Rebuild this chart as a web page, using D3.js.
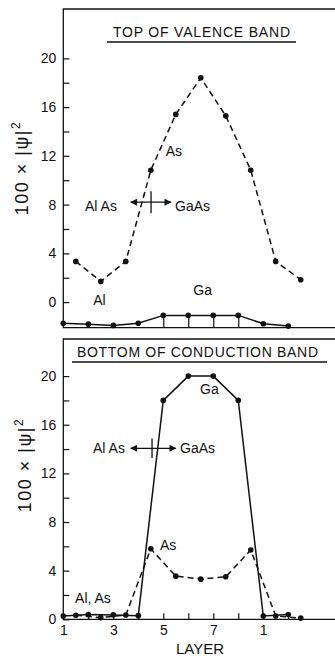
<!DOCTYPE html>
<html>
<head>
<meta charset="utf-8">
<script src="https://cdn.jsdelivr.net/npm/d3@7"></script>
<style>
  body { margin: 0; background: #fff; }
  svg text { font-family: "Liberation Sans", Arial, sans-serif; fill: #111; }
</style>
</head>
<body>
<div id="chart"></div>
<script>
// layers: Ga sits on integer layers, As on the half layers between them
const gaLayers = [1, 2, 3, 4, 5, 6, 7, 8, 9, 10];
const asLayers = [1.5, 2.5, 3.5, 4.5, 5.5, 6.5, 7.5, 8.5, 9.5, 10.5];

// top of valence band (Ga curve is drawn on its own offset baseline)
const topGa = [-1.73, -1.81, -1.91, -1.73, -1.09, -1.09, -1.09, -1.09, -1.77, -1.97];
const topAs = [3.34, 1.70, 3.34, 10.82, 15.4, 18.4, 15.28, 10.82, 3.34, 1.84];

// bottom of conduction band
const botGa = [0.27, 0.4, 0.36, 0.3, 18.0, 20.0, 20.0, 18.0, 0.27, 0.4];
const botAs = [0.33, 0.14, 0.35, 5.8, 3.55, 3.3, 3.5, 5.7, 0.27, 0.1];

const yMajor = [0, 4, 8, 12, 16, 20];
const yMinor = [2, 6, 10, 14, 18];
const xTicks = [2, 3, 4, 5, 6, 7, 8, 9, 10];
const xLabelVals = [1, 3, 5, 7, 9];
const xLabelText = ["1", "3", "5", "7", "1"];

const W = 335, H = 656;
const svg = d3.select("#chart").append("svg")
  .attr("width", W).attr("height", H);

const defs = svg.append("defs");
defs.append("marker")
  .attr("id", "ah")
  .attr("viewBox", "0 0 10 10")
  .attr("refX", 9).attr("refY", 5)
  .attr("markerWidth", 8).attr("markerHeight", 7)
  .attr("markerUnits", "userSpaceOnUse")
  .attr("orient", "auto-start-reverse")
  .append("path").attr("d", "M0,0 L10,5 L0,10 Z").attr("fill", "#111");

const x = d3.scaleLinear().domain([1, 11.87]).range([63.3, 335]);

function pts(xs, ys) { return xs.map((l, i) => [l, ys[i]]); }

function drawPanel(p) {
  const y = d3.scaleLinear().domain(p.yDomain).range([p.bottom, p.top]);
  const g = svg.append("g");

  // frame: left, top and bottom edges
  g.append("path")
    .attr("d", `M335,${p.top}H${x.range()[0]}V${p.bottom}H335`)
    .attr("fill", "none").attr("stroke", "#111").attr("stroke-width", 1.3);

  const ya = g.append("g").attr("transform", `translate(${x.range()[0]},0)`)
    .call(d3.axisLeft(y).tickValues(yMajor).tickSizeInner(-6).tickSizeOuter(0).tickPadding(7));
  ya.select(".domain").remove();
  ya.selectAll("text").style("font-size", "14px");
  const ym = g.append("g").attr("transform", `translate(${x.range()[0]},0)`)
    .call(d3.axisLeft(y).tickValues(yMinor).tickSizeInner(-6).tickSizeOuter(0).tickFormat(""));
  ym.select(".domain").remove();
  g.selectAll(".tick line").attr("stroke", "#111").attr("stroke-width", 1.2);

  const xa = g.append("g").attr("transform", `translate(0,${p.bottom})`)
    .call(d3.axisBottom(x).tickValues(p.xTicks).tickSizeInner(-p.xTickLen).tickSizeOuter(0).tickFormat(""));
  xa.select(".domain").remove();
  xa.selectAll("line").attr("stroke", "#111").attr("stroke-width", 1.2);

  if (p.xLabels) {
    const xl = g.append("g").attr("transform", `translate(0,${p.bottom})`)
      .call(d3.axisBottom(x).tickValues(xLabelVals).tickSize(0).tickPadding(6)
        .tickFormat((d, i) => xLabelText[i]));
    xl.select(".domain").remove();
    xl.selectAll("text").style("font-size", "14px");
  }

  const line = d3.line().x(d => x(d[0])).y(d => y(d[1]));
  p.series.forEach(s => {
    const data = pts(s.xs, s.ys);
    g.append("path").datum(data)
      .attr("d", line).attr("fill", "none")
      .attr("stroke", "#111").attr("stroke-width", 1.5)
      .attr("stroke-dasharray", s.dashed ? "6,4" : null);
    g.selectAll(null).data(data).enter().append("circle")
      .attr("cx", d => x(d[0])).attr("cy", d => y(d[1]))
      .attr("r", 2.8).attr("fill", "#111");
  });

  // title with underline
  g.append("text").attr("x", p.title.x).attr("y", p.title.y)
    .attr("textLength", p.title.len).attr("lengthAdjust", "spacing")
    .style("font-size", "14px").text(p.title.text);
  g.append("line").attr("x1", p.title.u1).attr("x2", p.title.u2)
    .attr("y1", p.title.y + 5).attr("y2", p.title.y + 5)
    .attr("stroke", "#111").attr("stroke-width", 1.3);

  // y label
  const yl = g.append("text")
    .attr("transform", `translate(${p.ylab[0]},${p.ylab[1]}) rotate(-90)`)
    .attr("text-anchor", "middle").style("font-size", "18px")
    .style("letter-spacing", "1.5px");
  yl.append("tspan").text("100 × |ψ|");
  yl.append("tspan").attr("dy", -8).style("font-size", "12px").text("2");

  // annotation labels
  p.labels.forEach(l => {
    g.append("text").attr("x", x(l.l)).attr("y", y(l.v))
      .style("font-size", "14px").text(l.t);
  });

  // interface marker: double arrow with a vertical bar
  const a = p.arrow;
  g.append("line")
    .attr("x1", x(a.l0)).attr("x2", x(a.l1))
    .attr("y1", y(a.v)).attr("y2", y(a.v))
    .attr("stroke", "#111").attr("stroke-width", 1.3)
    .attr("marker-start", "url(#ah)").attr("marker-end", "url(#ah)");
  g.append("line")
    .attr("x1", x(a.bar)).attr("x2", x(a.bar))
    .attr("y1", y(a.v + a.h)).attr("y2", y(a.v - a.h))
    .attr("stroke", "#111").attr("stroke-width", 1.3);

  return y;
}

drawPanel({
  top: 9, bottom: 327.7, yDomain: [-2.1, 24.05],
  xTicks: [5, 6, 7, 8], xTickLen: 12, xLabels: false,
  series: [
    { xs: asLayers, ys: topAs, dashed: true },
    { xs: gaLayers, ys: topGa, dashed: false }
  ],
  title: { text: "TOP OF VALENCE BAND", x: 113, y: 37, len: 177, u1: 107, u2: 296 },
  ylab: [28, 168],
  labels: [
    { t: "As", l: 5.1, v: 11.95 },
    { t: "Al As", l: 1.87, v: 7.45 },
    { t: "GaAs", l: 5.47, v: 7.45 },
    { t: "Al", l: 2.2, v: -0.27 },
    { t: "Ga", l: 6.2, v: 0.55 }
  ],
  arrow: { l0: 3.7, l1: 5.3, v: 8.2, bar: 4.51, h: 0.9 }
});

drawPanel({
  top: 339, bottom: 619.3, yDomain: [0, 23.05],
  xTicks: xTicks, xTickLen: 6, xLabels: true,
  series: [
    { xs: asLayers, ys: botAs, dashed: true },
    { xs: gaLayers, ys: botGa, dashed: false }
  ],
  title: { text: "BOTTOM OF CONDUCTION BAND", x: 77, y: 357, len: 241, u1: 72, u2: 327 },
  ylab: [31, 465],
  labels: [
    { t: "Ga", l: 6.47, v: 18.5 },
    { t: "Al As", l: 2.19, v: 13.65 },
    { t: "GaAs", l: 5.67, v: 13.65 },
    { t: "As", l: 4.87, v: 5.66 },
    { t: "Al, As", l: 1.47, v: 1.33 }
  ],
  arrow: { l0: 3.7, l1: 5.5, v: 14.06, bar: 4.55, h: 0.8 }
});

// x axis title
svg.append("text").attr("x", 200).attr("y", 654)
  .attr("text-anchor", "middle").style("font-size", "15px").text("LAYER");
</script>
</body>
</html>
